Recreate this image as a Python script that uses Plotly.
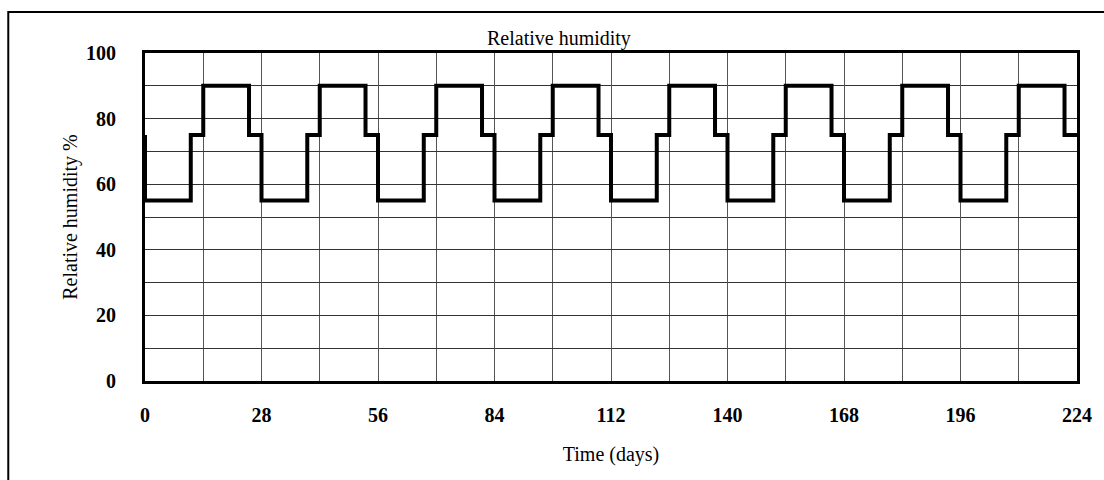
import plotly.graph_objects as go

# Relative humidity cycle: day at which each level starts, and the level (%)
day = [0, 0, 11, 14, 25, 28, 39, 42, 53, 56, 67, 70, 81, 84, 95, 98, 109, 112,
       123, 126, 137, 140, 151, 154, 165, 168, 179, 182, 193, 196, 207, 210, 221, 224]
rh = [75, 55, 75, 90, 75, 55, 75, 90, 75, 55, 75, 90, 75, 55, 75, 90, 75, 55,
      75, 90, 75, 55, 75, 90, 75, 55, 75, 90, 75, 55, 75, 90, 75, 75]

x_ticks = [0, 28, 56, 84, 112, 140, 168, 196, 224]
y_ticks = [0, 20, 40, 60, 80, 100]

SERIF = "Liberation Serif"

fig = go.Figure()
fig.add_trace(go.Scatter(
    x=day, y=rh, mode="lines", line_shape="hv",
    line=dict(color="black", width=4), showlegend=False, hoverinfo="skip",
))

fig.update_layout(
    width=1104, height=480,
    margin=dict(l=145, r=25, t=53, b=99),
    paper_bgcolor="white", plot_bgcolor="white",
    font=dict(family=SERIF, color="black"),
    xaxis=dict(
        range=[0, 224], tickvals=x_ticks, ticktext=[str(v) for v in x_ticks],
        showgrid=True, gridcolor="#555", gridwidth=1,
        minor=dict(dtick=14, tick0=0, showgrid=True, gridcolor="#555", gridwidth=1),
        showline=True, linecolor="black", linewidth=3, mirror=True,
        ticks="", ticklabelstandoff=14, zeroline=False,
        tickfont=dict(family=SERIF, size=20, weight="bold"),
        title=dict(text="Time (days)", font=dict(family=SERIF, size=20), standoff=22),
    ),
    yaxis=dict(
        range=[0, 100], tickvals=y_ticks, ticktext=[str(v) for v in y_ticks],
        showgrid=True, gridcolor="#333", gridwidth=1,
        minor=dict(dtick=10, tick0=0, showgrid=True, gridcolor="#333", gridwidth=1),
        showline=True, linecolor="black", linewidth=3, mirror=True,
        ticks="", ticklabelstandoff=22, zeroline=False,
        tickfont=dict(family=SERIF, size=20, weight="bold"),
        title=dict(text="Relative humidity %", font=dict(family=SERIF, size=20), standoff=4),
    ),
    annotations=[dict(
        text="Relative humidity", x=0.444, y=1, xref="paper", yref="paper",
        xanchor="center", yanchor="bottom", yshift=1, showarrow=False,
        font=dict(family=SERIF, size=20),
    )],
    shapes=[dict(
        type="rect", xref="paper", yref="paper",
        x0=-0.1467, x1=1.2, y0=-1.0, y1=1.125,
        line=dict(color="black", width=2), fillcolor="rgba(0,0,0,0)", layer="below",
    )],
)

fig.write_html("out.html")
